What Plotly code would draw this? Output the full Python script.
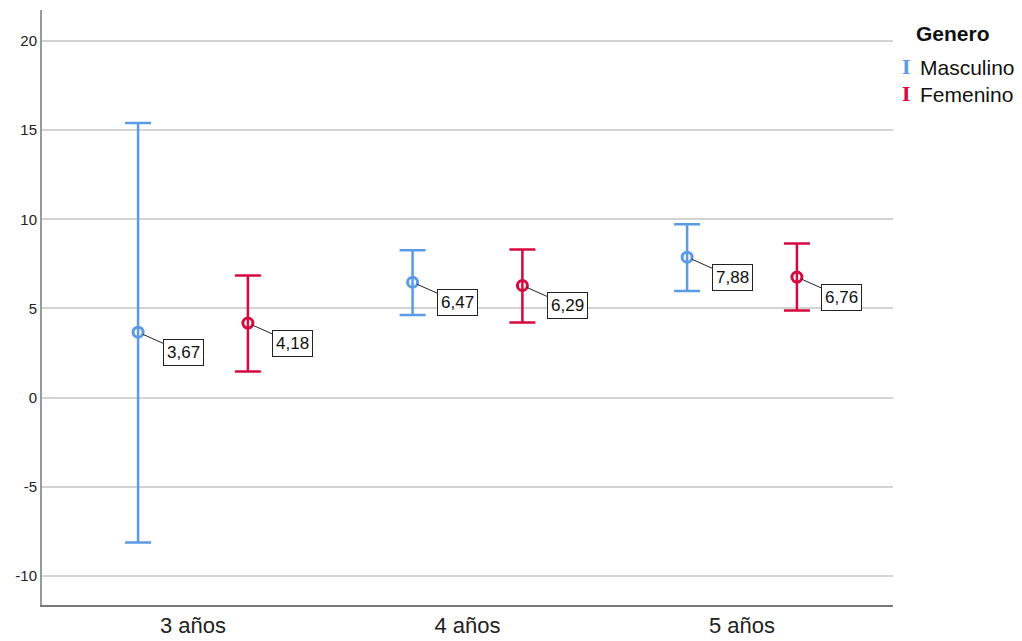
import plotly.graph_objects as go

categories = ["3 años", "4 años", "5 años"]
series_names = ["Masculino", "Femenino"]
masc_mean = [3.67, 6.47, 7.88]
masc_upper = [15.40, 8.26, 9.72]
masc_lower = [-8.12, 4.64, 5.98]
fem_mean = [4.18, 6.29, 6.76]
fem_upper = [6.85, 8.31, 8.65]
fem_lower = [1.47, 4.22, 4.89]
y_ticks = [-10, -5, 0, 5, 10, 15, 20]
y_tick_labels = ["-10", "-5", "0", "5", "10", "15", "20"]

colors = ["#5b9be6", "#d6093f"]
offsets = [-0.2, 0.2]

series = [
    (masc_mean, masc_upper, masc_lower),
    (fem_mean, fem_upper, fem_lower),
]

fig = go.Figure()
annotations = []
for k, (name, (mean, up, lo)) in enumerate(zip(series_names, series)):
    xs = [i + offsets[k] for i in range(len(categories))]
    fig.add_trace(go.Scatter(
        x=xs, y=mean, mode="markers", name=name, showlegend=False,
        marker=dict(symbol="circle-open", size=10, color=colors[k],
                    line=dict(width=3, color=colors[k])),
        error_y=dict(type="data", symmetric=False,
                     array=[u - m for u, m in zip(up, mean)],
                     arrayminus=[m - l for m, l in zip(mean, lo)],
                     color=colors[k], thickness=2.5, width=13),
    ))
    for x, m in zip(xs, mean):
        annotations.append(dict(
            x=x, y=m, xref="x", yref="y",
            text=f"{m:.2f}".replace(".", ","),
            showarrow=True, arrowhead=0, arrowwidth=1, arrowcolor="#222",
            ax=45, ay=20, standoff=5,
            bgcolor="white", bordercolor="#222", borderwidth=1, borderpad=3,
            font=dict(family="Liberation Sans, Arial", size=17, color="#111"),
        ))

# legend (custom, SPSS-like)
annotations.append(dict(
    x=1.025, y=0.961, xref="paper", yref="paper", xanchor="left", yanchor="middle",
    text="<b>Genero</b>", showarrow=False,
    font=dict(family="Liberation Sans, Arial", size=21, color="#111")))
for k, (name, yy) in enumerate(zip(series_names, [0.903, 0.858])):
    annotations.append(dict(
        x=1.008, y=yy, xref="paper", yref="paper", xanchor="left", yanchor="middle",
        text="<b>I</b>", showarrow=False,
        font=dict(family="DejaVu Serif", size=18, color=colors[k])))
    annotations.append(dict(
        x=1.029, y=yy, xref="paper", yref="paper", xanchor="left", yanchor="middle",
        text=name, showarrow=False,
        font=dict(family="Liberation Sans, Arial", size=21, color="#111")))

fig.update_layout(
    width=1014, height=633,
    margin=dict(l=34, r=129, t=2, b=36, autoexpand=False),
    paper_bgcolor="white", plot_bgcolor="white",
    annotations=annotations,
    showlegend=False,
    xaxis=dict(range=[-0.55, 2.55], tickvals=list(range(len(categories))),
               ticktext=categories, showgrid=False, zeroline=False,
               showline=True, linecolor="#777", linewidth=2, ticks="",
               automargin=False,
               tickfont=dict(family="Liberation Sans, Arial", size=22, color="#222")),
    yaxis=dict(range=[-11.63, 21.74], tickvals=y_ticks, ticktext=y_tick_labels,
               showgrid=True, automargin=False,
               gridcolor="#d3d3d3", gridwidth=1.5, zeroline=False,
               showline=True, linecolor="#999", linewidth=2, ticks="",
               tickfont=dict(family="Liberation Sans, Arial", size=15, color="#222")),
)

fig.write_html("out.html")
